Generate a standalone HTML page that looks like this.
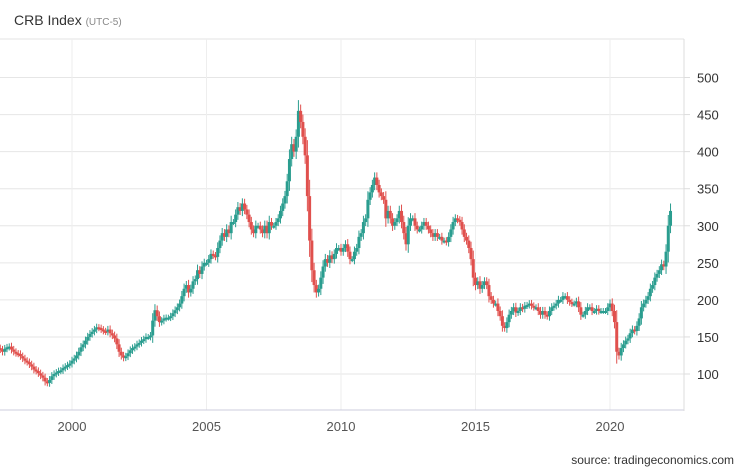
<!DOCTYPE html>
<html><head><meta charset="utf-8"><style>
body{margin:0;background:#fff;width:746px;height:468px;overflow:hidden;font-family:"Liberation Sans",sans-serif}
svg{position:absolute;left:0;top:0}
</style></head><body>
<svg width="746" height="468" id="c">
<text x="14" y="25" font-size="14" fill="#333">CRB Index <tspan font-size="10" fill="#888">(UTC-5)</tspan></text>
<text x="734" y="464" font-size="12" fill="#333" text-anchor="end">source: tradingeconomics.com</text>
<g id="grid"></g><g id="marks"></g><g id="axes"></g>
</svg>
<script>
const startYear = 1997.25;
const closes = [
135,133,130,134,136,137,133,130,128,
127,124,121,118,116,113,110,106,104,101,98,95,
90,88,92,97,100,102,104,105,108,110,112,114,
118,121,125,130,136,140,145,150,154,157,160,163,
162,160,158,157,160,155,152,148,140,130,125,122,
124,128,132,135,137,140,142,145,147,150,150,152,
172,186,178,170,172,175,176,176,178,182,186,190,
195,205,215,220,210,215,225,228,240,235,245,250,
250,255,262,260,258,270,280,290,285,295,290,305,
305,315,325,320,330,322,315,305,295,290,300,300,
295,290,300,290,305,300,300,305,310,320,330,340,
360,390,410,400,420,455,440,420,395,340,280,240,
220,210,215,230,245,255,250,260,255,262,270,270,
265,270,275,265,255,255,265,270,285,290,305,310,
335,345,355,365,355,345,340,335,310,320,310,300,
305,310,320,305,290,275,300,310,310,300,295,295,
300,305,300,295,290,285,290,285,285,280,280,278,
285,295,305,310,308,305,295,285,280,270,255,230,
220,225,215,220,225,220,205,200,195,195,185,178,
165,162,170,180,185,190,183,185,190,188,192,193,
195,192,190,190,185,180,185,180,178,185,190,192,
195,200,200,205,205,200,197,195,195,198,190,180,
180,185,190,190,185,185,188,185,185,185,185,190,
195,185,170,130,125,135,140,145,148,155,160,158,
165,175,190,195,200,205,215,220,230,235,240,248,
245,265,300,320];
const yTicks = [100,150,200,250,300,350,400,450,500];
const xTicks = [2000,2005,2010,2015,2020];
const NS="http://www.w3.org/2000/svg";
const L=0,R=684,T=39,B=410;
const yS=v=>374-(v-100)*(296.5/400);
const xS=t=>72+(t-2000)*26.9;
const grid=document.getElementById('grid'),marks=document.getElementById('marks'),axes=document.getElementById('axes');
function mk(tag,at,p){const e=document.createElementNS(NS,tag);for(const k in at)e.setAttribute(k,at[k]);p.appendChild(e);return e;}
let e=mk('line',{x1:0,x2:R,y1:T,y2:T,stroke:'#e3e3e3'},grid);


yTicks.forEach(v=>{const y=yS(v);
 let g=mk('line',{x1:0,x2:R,y1:y,y2:y,stroke:'#e6e6e6'},grid);
 
 
 let tk=mk('line',{x1:R,x2:R+6,y1:y,y2:y,stroke:'#ddd'},axes);
 
 
 let t=mk('text',{x:697,y:y+5,'font-size':13,fill:'#333'},axes);t.textContent=v;
 
 
});
xTicks.forEach(v=>{const x=xS(v);
 let g=mk('line',{x1:x,x2:x,y1:T,y2:B,stroke:'#eeeeee'},grid);
 
 
 let t=mk('text',{x:x,y:431,'font-size':13,fill:'#555','text-anchor':'middle'},axes);t.textContent=v;
 
 
});
e=mk('line',{x1:0,x2:R,y1:B,y2:B,stroke:'#ccd'},axes);


e=mk('line',{x1:R,x2:R,y1:T,y2:B+1,stroke:'#ddd'},axes);


closes.forEach((c,i)=>{
 const o=i?closes[i-1]:c;const t=startYear+i/12;const x=xS(t);
 const hi=Math.max(o,c),lo=Math.min(o,c);const w=(hi-lo)*0.3+4;
 const col=c>=o?'#2a9d8f':'#e0504d';
 const g=mk('g',{},marks);
 
 
 mk('line',{x1:x,x2:x,y1:yS(hi+w),y2:yS(lo-w),stroke:col,'stroke-width':1},g);
 const y1=yS(hi),y2=yS(lo);
 mk('rect',{x:x-1.5,y:y1,width:3,height:Math.max(2,y2-y1),fill:col},g);
});
</script>
</body></html>
